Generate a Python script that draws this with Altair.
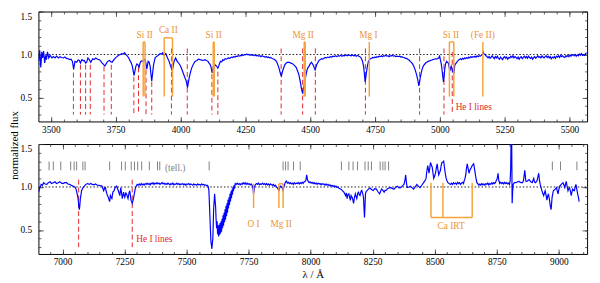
import altair as alt
import pandas as pd

FONT = "Liberation Serif"
BLUE = "#0000ff"
ORANGE = "#f5a33a"
ORANGE_TXT = "#ec9433"
RED = "#e0282d"
GREY = "#7f7f7f"
W, H = 559, 112

# ---------------- axes / domains ----------------
TOP_X_DOMAIN = [3452, 5568]
BOT_X_DOMAIN = [6903, 9114]
Y_DOMAIN = [0.22, 1.5]
TOP_X_MAJOR = [3500, 3750, 4000, 4250, 4500, 4750, 5000, 5250, 5500]
TOP_X_MINOR = list(range(3500, 5551, 50))
BOT_X_MAJOR = [7000, 7250, 7500, 7750, 8000, 8250, 8500, 8750, 9000]
BOT_X_MINOR = list(range(6950, 9101, 50))
Y_MAJOR = [0.5, 1.0, 1.5]
Y_MINOR = [0.3, 0.4, 0.5, 0.6, 0.7, 0.8, 0.9, 1.0, 1.1, 1.2, 1.3, 1.4, 1.5]

# ---------------- top spectrum, (wavelength, normalized flux) ----------------
TOP_SEG_1 = [
    (3453, 0.92), (3457, 1.05), (3461, 0.85), (3465, 1.03), (3468, 0.96), (3472, 1.04), (3476, 0.90), (3480, 0.99), (3483, 0.94), (3487, 1.03),
    (3492, 0.96), (3497, 0.99), (3504, 0.96), (3510, 0.975), (3516, 0.96), (3522, 0.98), (3529, 0.96), (3535, 0.975), (3541, 0.965), (3548, 0.96),
    (3554, 0.97), (3560, 0.955), (3567, 0.95), (3573, 0.94), (3578, 0.945), (3583, 0.92), (3588, 0.83), (3593, 0.92), (3600, 0.91), (3605, 0.935),
    (3610, 0.93), (3614, 0.90), (3620, 0.94), (3625, 0.925), (3629, 0.93), (3634, 0.90), (3638, 0.91), (3643, 0.96), (3648, 0.94), (3654, 0.91),
    (3661, 0.95), (3667, 0.94), (3673, 0.96), (3680, 0.945), (3686, 0.94), (3692, 0.925), (3698, 0.90), (3703, 0.885), (3708, 0.865), (3713, 0.89),
    (3717, 0.91), (3722, 0.925), (3726, 0.93), (3731, 0.915), (3736, 0.91), (3742, 0.935), (3749, 0.96), (3755, 0.975), (3761, 0.99), (3768, 1.0),
    (3774, 1.01), (3779, 1.005), (3784, 1.02), (3789, 1.0), (3793, 0.99), (3799, 0.965), (3805, 0.93), (3810, 0.90), (3814, 0.865), (3818, 0.80),
    (3821, 0.755), (3825, 0.82), (3828, 0.865), (3832, 0.89), (3836, 0.88), (3840, 0.85), (3844, 0.90), (3847, 0.92), (3851, 0.925), (3855, 0.92),
    (3859, 0.935), (3863, 0.94), (3867, 0.89), (3870, 0.83), (3875, 0.92), (3879, 0.91), (3883, 0.86), (3886, 0.77), (3889, 0.69), (3893, 0.80),
    (3896, 0.88), (3902, 0.96), (3907, 0.975), (3912, 0.985), (3917, 1.0), (3922, 1.01), (3927, 1.005), (3931, 1.02), (3937, 0.99), (3943, 1.01),
    (3950, 0.96), (3956, 0.92), (3962, 0.865), (3968, 0.81), (3972, 0.87), (3975, 0.92), (3981, 0.96), (3987, 0.92), (3994, 0.895), (4000, 0.865),
    (4006, 0.82), (4012, 0.77), (4017, 0.73), (4021, 0.70), (4024, 0.66), (4027, 0.615), (4030, 0.67), (4034, 0.735), (4039, 0.80), (4044, 0.85),
    (4050, 0.89), (4056, 0.92), (4063, 0.93), (4069, 0.945), (4075, 0.94), (4082, 0.935), (4088, 0.93), (4094, 0.94), (4100, 0.93), (4106, 0.92),
    (4110, 0.90), (4114, 0.885), (4118, 0.85), (4122, 0.785), (4127, 0.865), (4130, 0.85), (4133, 0.88), (4139, 0.865), (4144, 0.84), (4148, 0.87),
]
TOP_SEG_2 = [
    (4151, 0.90), (4155, 0.92), (4159, 0.915), (4163, 0.94), (4167, 0.93), (4172, 0.95), (4177, 0.945), (4182, 0.955), (4186, 0.96), (4191, 0.955),
    (4196, 0.97), (4201, 0.965), (4205, 0.975), (4210, 0.97), (4214, 0.98), (4218, 0.975), (4222, 0.985), (4226, 0.98), (4231, 0.99), (4235, 0.985),
    (4239, 0.995), (4243, 0.99), (4247, 1.0), (4251, 0.995), (4256, 1.005), (4260, 0.995), (4264, 1.0), (4268, 0.99), (4272, 1.0), (4276, 0.99),
    (4281, 0.995), (4285, 0.985), (4289, 0.995), (4293, 0.985), (4297, 0.99), (4301, 0.98), (4306, 0.985), (4310, 0.975), (4314, 0.985), (4318, 0.98),
    (4322, 0.975), (4326, 0.97), (4331, 0.975), (4335, 0.965), (4339, 0.97), (4343, 0.96), (4347, 0.965), (4352, 0.955), (4356, 0.95), (4361, 0.945),
    (4365, 0.935), (4370, 0.92),
]
TOP_SEG_3 = [
    (4379, 0.85), (4386, 0.77), (4389, 0.75), (4394, 0.81), (4402, 0.88), (4408, 0.90), (4414, 0.91), (4422, 0.905), (4433, 0.89), (4440, 0.87),
    (4446, 0.85), (4451, 0.81), (4456, 0.77), (4462, 0.68), (4467, 0.59), (4471, 0.545), (4476, 0.63), (4481, 0.72), (4487, 0.81), (4491, 0.845),
    (4496, 0.865), (4500, 0.89), (4505, 0.91), (4511, 0.88), (4515, 0.85), (4519, 0.82), (4522, 0.85), (4525, 0.88), (4530, 0.91),
]
TOP_SEG_4 = [
    (4534, 0.93), (4539, 0.94), (4544, 0.95), (4549, 0.945), (4553, 0.955), (4558, 0.965), (4563, 0.96), (4568, 0.97), (4573, 0.965), (4578, 0.975),
    (4583, 0.97), (4588, 0.98), (4593, 0.975), (4598, 0.985), (4603, 0.975), (4608, 0.985), (4613, 0.98), (4618, 0.99), (4623, 0.98), (4628, 0.99),
    (4633, 0.985), (4638, 0.995), (4643, 0.985), (4648, 0.995), (4653, 0.99), (4658, 0.985), (4663, 0.995), (4668, 0.985), (4673, 0.99), (4678, 0.98),
    (4683, 0.99), (4688, 0.98), (4692, 0.975), (4697, 0.956),
    (4702, 0.92), (4706, 0.865), (4709, 0.78), (4712, 0.68), (4715, 0.74), (4717, 0.79), (4721, 0.87), (4725, 0.92),
]
TOP_SEG_5 = [
    (4729, 0.94), (4733, 0.95), (4737, 0.955), (4741, 0.965), (4746, 0.96), (4750, 0.97), (4754, 0.965), (4758, 0.975), (4762, 0.97), (4766, 0.98),
    (4771, 0.975), (4775, 0.985), (4779, 0.975), (4783, 0.985), (4787, 0.98), (4791, 0.99), (4796, 0.98), (4800, 0.985), (4804, 0.975), (4808, 0.985),
    (4812, 0.98), (4816, 0.99), (4821, 0.98), (4826, 0.985), (4830, 0.975), (4835, 0.98), (4840, 0.975), (4845, 0.98), (4850, 0.97), (4854, 0.975),
    (4858, 0.965), (4863, 0.965), (4867, 0.955), (4872, 0.955), (4876, 0.945), (4880, 0.94), (4883, 0.93), (4886, 0.92), (4891, 0.905), (4895, 0.89),
    (4900, 0.86),
]
TOP_SEG_6 = [
    (4904, 0.83), (4909, 0.78), (4914, 0.72), (4919, 0.635), (4922, 0.68), (4926, 0.755), (4931, 0.82), (4936, 0.865), (4945, 0.90), (4950, 0.91),
    (4955, 0.92), (4960, 0.925), (4964, 0.93), (4969, 0.935), (4973, 0.94), (4978, 0.945), (4983, 0.95), (4988, 0.945), (4992, 0.955), (4997, 0.96),
    (4999, 0.99), (5002, 0.94), (5005, 0.90), (5008, 0.84), (5011, 0.755), (5014, 0.68), (5016, 0.72), (5019, 0.83), (5022, 0.89), (5026, 0.92),
    (5029, 0.91), (5033, 0.90), (5036, 0.85), (5039, 0.81), (5042, 0.85), (5044, 0.865), (5047, 0.83), (5049, 0.81), (5052, 0.79), (5054, 0.775),
    (5058, 0.88), (5063, 0.90), (5068, 0.92), (5074, 0.94),
]
TOP_SEG_7 = [
    (5080, 0.95), (5084, 0.94), (5088, 0.955), (5092, 0.945), (5096, 0.96), (5100, 0.95), (5104, 0.965), (5108, 0.955), (5112, 0.97), (5116, 0.96),
    (5120, 0.975), (5124, 0.965), (5128, 0.975), (5132, 0.97), (5136, 0.98), (5140, 0.97), (5144, 0.985), (5148, 0.975), (5152, 0.985), (5156, 0.98),
    (5160, 0.99), (5164, 1.0), (5167, 1.03), (5170, 1.01), (5174, 1.0), (5178, 0.985), (5182, 0.975), (5186, 0.96), (5190, 0.975), (5194, 0.955),
    (5198, 0.97), (5202, 0.985), (5206, 0.965), (5210, 0.95), (5214, 0.975), (5218, 0.96), (5222, 0.98), (5226, 0.955), (5230, 0.945), (5234, 0.97),
    (5238, 0.955), (5242, 0.94), (5246, 0.965), (5250, 0.975), (5254, 0.955), (5258, 0.97), (5262, 0.945), (5266, 0.965), (5270, 0.96), (5274, 0.98),
    (5278, 0.965), (5282, 0.985), (5286, 0.96), (5290, 0.975), (5294, 0.965), (5298, 0.95), (5302, 0.97), (5306, 0.945), (5310, 0.965), (5314, 0.975),
    (5318, 0.95), (5322, 0.965), (5326, 0.98), (5330, 0.96), (5334, 0.975), (5338, 0.955), (5342, 0.98), (5346, 0.965), (5350, 0.955), (5354, 0.97),
    (5358, 0.945), (5362, 0.965), (5366, 0.975), (5370, 0.955), (5374, 0.97), (5378, 0.985), (5382, 0.965), (5386, 0.975), (5390, 0.96), (5394, 0.985),
    (5398, 0.97), (5402, 0.96), (5406, 0.975), (5410, 0.985), (5414, 0.965), (5418, 0.98), (5422, 0.96), (5426, 0.975), (5430, 0.95), (5434, 0.97),
    (5438, 0.96), (5442, 0.975), (5446, 0.955), (5450, 0.98), (5454, 0.97), (5458, 0.985), (5462, 0.965), (5466, 0.99), (5470, 0.975), (5474, 0.985),
    (5478, 0.97), (5482, 0.965), (5486, 0.985), (5490, 0.975), (5494, 0.99), (5498, 0.975), (5502, 0.995), (5506, 0.98), (5510, 0.99), (5514, 1.0),
    (5518, 0.985), (5522, 1.0), (5526, 0.98), (5530, 0.995), (5534, 0.985), (5538, 1.005), (5542, 0.99), (5546, 1.01), (5550, 0.99), (5554, 1.0),
    (5558, 0.99), (5562, 1.01), (5566, 1.02),
]

# ---------------- bottom spectrum, (wavelength, normalized flux) ----------------
BOT_SEG_1 = [
    (6904, 0.94), (6906, 0.96), (6908, 0.993), (6911, 1.0), (6914, 1.03), (6919, 1.02), (6924, 1.05), (6930, 1.035), (6937, 1.03), (6943, 1.05),
    (6950, 1.06), (6956, 1.04), (6963, 1.05), (6970, 1.06), (6976, 1.04), (6983, 1.05), (6989, 1.06), (6996, 1.045), (7002, 1.04), (7009, 1.05),
    (7016, 1.05), (7022, 1.035), (7029, 1.03), (7035, 1.02), (7042, 1.01), (7047, 1.005), (7052, 0.993), (7056, 0.96), (7059, 0.92), (7062, 0.88),
    (7064, 0.83), (7066, 0.77), (7068, 0.736), (7070, 0.79), (7072, 0.865), (7075, 0.92), (7077, 0.956), (7082, 0.99), (7088, 1.01), (7094, 1.03),
    (7101, 1.04), (7108, 1.03), (7114, 1.04), (7120, 1.03), (7127, 1.025), (7133, 1.035), (7140, 1.02), (7146, 1.02), (7152, 1.015), (7159, 1.01),
    (7163, 0.98), (7166, 0.956), (7170, 0.99), (7173, 0.993), (7176, 0.95), (7179, 0.92), (7183, 0.89), (7186, 0.865), (7190, 0.83), (7193, 0.90),
    (7196, 0.88), (7199, 0.865), (7203, 0.94), (7208, 0.956), (7212, 0.993), (7218, 1.01), (7222, 0.98), (7225, 0.956), (7228, 0.93), (7231, 0.90),
    (7235, 0.993), (7238, 0.93), (7241, 0.865), (7244, 0.91), (7246, 0.94), (7249, 0.90), (7251, 0.88), (7255, 0.93), (7258, 0.92), (7261, 0.89),
    (7264, 0.865), (7268, 0.93), (7271, 0.956), (7274, 0.90), (7276, 0.846), (7279, 0.83), (7281, 0.81), (7284, 0.84), (7286, 0.865), (7290, 0.93),
    (7293, 0.975),
]
BOT_SEG_2 = [
    (7297, 1.01), (7301, 1.03), (7305, 1.02), (7309, 1.035), (7313, 1.02), (7317, 1.04), (7321, 1.025), (7325, 1.035), (7329, 1.02), (7333, 1.04),
    (7337, 1.03), (7341, 1.045), (7345, 1.03), (7349, 1.04), (7353, 1.025), (7357, 1.045), (7361, 1.035), (7365, 1.05), (7369, 1.03), (7373, 1.045),
    (7377, 1.035), (7381, 1.05), (7385, 1.035), (7389, 1.045), (7393, 1.03), (7397, 1.04), (7401, 1.05), (7405, 1.035), (7409, 1.045), (7413, 1.03),
    (7417, 1.04), (7421, 1.03), (7425, 1.045), (7429, 1.035), (7433, 1.025), (7437, 1.04), (7441, 1.03), (7445, 1.045), (7449, 1.025), (7453, 1.035),
    (7457, 1.03), (7461, 1.045), (7465, 1.03), (7469, 1.04), (7473, 1.025), (7477, 1.035), (7481, 1.03), (7485, 1.04), (7489, 1.025), (7493, 1.035),
    (7497, 1.02), (7501, 1.035), (7505, 1.03), (7509, 1.04), (7513, 1.025), (7517, 1.035), (7521, 1.03), (7525, 1.02), (7529, 1.035), (7533, 1.025),
    (7537, 1.03), (7541, 1.02), (7545, 1.035), (7549, 1.025), (7553, 1.03), (7557, 1.02), (7561, 1.035), (7565, 1.025), (7569, 1.03), (7573, 1.02),
    (7577, 1.025), (7581, 1.015), (7584, 1.02), (7587, 1.005), (7590, 0.96),
]
BOT_SEG_3 = [
    (7594, 0.66), (7598, 0.37), (7602, 0.28), (7606, 0.41), (7609, 0.74), (7613, 0.92), (7617, 0.77), (7619, 0.62), (7621, 0.52), (7623, 0.60),
    (7625, 0.45), (7627, 0.55), (7629, 0.425), (7631, 0.56), (7633, 0.44), (7635, 0.58), (7637, 0.46), (7639, 0.60), (7641, 0.48), (7643, 0.63),
    (7645, 0.52), (7647, 0.67), (7649, 0.55), (7651, 0.70), (7653, 0.59), (7655, 0.74), (7657, 0.62), (7659, 0.78), (7661, 0.66), (7663, 0.81),
    (7665, 0.70), (7667, 0.85), (7669, 0.75), (7671, 0.88), (7673, 0.79), (7675, 0.92), (7677, 0.83), (7679, 0.95), (7681, 0.87), (7683, 0.97),
    (7685, 0.91), (7687, 1.0), (7689, 0.95), (7691, 1.02), (7693, 0.98), (7696, 1.04),
]
BOT_SEG_4 = [
    (7700, 1.03), (7704, 1.045), (7708, 1.03), (7712, 1.04), (7716, 1.025), (7720, 1.04), (7724, 1.03), (7728, 1.05), (7732, 1.035), (7736, 1.05),
    (7740, 1.03), (7744, 1.045), (7748, 1.03), (7752, 1.04), (7756, 1.025), (7760, 1.035), (7764, 1.02), (7766, 1.01), (7768, 0.975), (7770, 0.92),
    (7772, 0.96), (7774, 1.01), (7778, 1.03), (7782, 1.04), (7786, 1.03), (7790, 1.045), (7794, 1.025), (7798, 1.035), (7802, 1.03), (7806, 1.045),
    (7810, 1.03), (7814, 1.04), (7818, 1.025), (7822, 1.04), (7826, 1.025), (7830, 1.035), (7834, 1.02), (7838, 1.035), (7842, 1.025), (7846, 1.02),
    (7850, 1.03), (7854, 1.01), (7858, 1.02), (7862, 1.0), (7866, 0.99), (7869, 0.975), (7872, 0.96), (7875, 0.99), (7879, 1.01), (7883, 1.0),
    (7885, 0.99), (7889, 0.96), (7892, 1.0), (7895, 1.03), (7899, 1.06), (7902, 1.07), (7906, 1.045), (7910, 1.055), (7914, 1.04), (7918, 1.05),
    (7922, 1.035), (7926, 1.045), (7930, 1.03), (7934, 1.05), (7938, 1.035), (7942, 1.045), (7946, 1.04), (7950, 1.05), (7954, 1.035), (7958, 1.05),
    (7962, 1.04), (7966, 1.055), (7970, 1.04), (7974, 1.06), (7978, 1.065), (7981, 1.08), (7984, 1.14), (7987, 1.09), (7990, 1.065), (7994, 1.05),
    (7998, 1.06), (8002, 1.045), (8006, 1.055), (8010, 1.04), (8014, 1.05), (8018, 1.035), (8022, 1.045), (8026, 1.03), (8030, 1.045), (8034, 1.035),
    (8038, 1.04), (8042, 1.025), (8046, 1.04), (8050, 1.03), (8054, 1.035), (8058, 1.02), (8062, 1.035), (8066, 1.02), (8070, 1.03), (8074, 1.015),
    (8078, 1.025), (8082, 1.01), (8086, 1.02), (8090, 1.005), (8094, 1.015), (8098, 1.0), (8102, 1.01), (8106, 0.995), (8110, 1.0), (8114, 0.985),
    (8118, 0.98),
]
BOT_SEG_5 = [
    (8122, 0.975), (8127, 0.96), (8134, 0.94), (8141, 0.90), (8144, 0.93), (8147, 0.865), (8150, 0.91), (8154, 0.92), (8157, 0.88), (8160, 0.845),
    (8163, 0.90), (8167, 0.88), (8170, 0.85), (8173, 0.81), (8176, 0.87), (8180, 0.92), (8183, 0.89), (8186, 0.865), (8190, 0.93), (8193, 0.94),
    (8196, 0.91), (8199, 0.90), (8203, 0.95), (8206, 0.96), (8210, 0.92), (8213, 0.88), (8215, 0.75), (8217, 0.645), (8219, 0.78), (8221, 0.92),
    (8224, 0.95), (8228, 0.96), (8233, 0.975), (8239, 0.99), (8245, 0.97), (8252, 0.96), (8258, 0.98), (8265, 0.975), (8270, 0.95), (8275, 0.93),
    (8278, 0.92), (8282, 0.95), (8286, 0.975), (8291, 0.96), (8296, 0.94), (8300, 0.96), (8304, 0.96), (8310, 0.98), (8317, 0.99), (8324, 0.993),
    (8330, 0.98), (8337, 0.975), (8343, 1.0), (8350, 1.01), (8356, 0.99), (8363, 0.993), (8369, 1.01), (8376, 1.03), (8380, 1.08), (8383, 1.14),
    (8386, 1.05), (8389, 0.993), (8396, 1.0), (8402, 1.01), (8409, 0.99), (8415, 0.975), (8421, 1.0), (8428, 1.03), (8434, 1.01), (8441, 0.993),
    (8448, 1.02), (8455, 1.05), (8460, 1.07), (8465, 1.10), (8468, 1.18), (8472, 1.25), (8477, 1.16), (8480, 1.22), (8483, 1.285), (8487, 1.25),
    (8490, 1.23), (8493, 1.16), (8496, 1.10), (8500, 1.13), (8504, 1.175), (8507, 1.23), (8510, 1.27), (8513, 1.20), (8516, 1.14), (8520, 1.17),
    (8523, 1.195), (8526, 1.25), (8529, 1.285), (8533, 1.29), (8536, 1.30), (8540, 1.21), (8543, 1.15), (8546, 1.10), (8550, 1.07), (8553, 1.05),
    (8558, 1.04),
]
BOT_SEG_6 = [
    (8564, 1.03), (8568, 1.045), (8572, 1.03), (8576, 1.05), (8580, 1.035), (8584, 1.045), (8588, 1.03), (8592, 1.055), (8596, 1.04), (8600, 1.05),
    (8604, 1.03), (8608, 1.045), (8612, 1.055), (8616, 1.04), (8618, 1.065), (8622, 1.10), (8625, 1.14), (8628, 1.22), (8631, 1.27), (8635, 1.21),
    (8638, 1.16), (8641, 1.19), (8644, 1.21), (8648, 1.23), (8651, 1.25), (8654, 1.26), (8657, 1.27), (8661, 1.20), (8664, 1.14), (8667, 1.09),
    (8670, 1.05), (8674, 1.035), (8678, 1.02), (8682, 1.035), (8686, 1.02), (8690, 1.04), (8694, 1.025), (8698, 1.035), (8702, 1.02), (8706, 1.04),
    (8710, 1.03), (8714, 1.045), (8718, 1.025), (8722, 1.04), (8726, 1.03), (8730, 1.05), (8734, 1.035), (8738, 1.05), (8742, 1.04), (8746, 1.06),
    (8749, 1.08), (8752, 1.10), (8755, 1.16), (8758, 1.08), (8762, 1.04), (8766, 1.055), (8770, 1.04), (8774, 1.05), (8778, 1.035), (8782, 1.055),
    (8786, 1.04), (8790, 1.05), (8794, 1.035), (8798, 1.045), (8801, 1.03), (8804, 1.07), (8806, 1.21), (8808, 1.60), (8810, 1.60), (8812, 0.81),
    (8814, 0.95), (8816, 1.03),
]
BOT_SEG_7 = [
    (8821, 1.05), (8827, 1.05), (8834, 1.06), (8840, 1.065), (8847, 1.05), (8854, 1.05), (8858, 1.08), (8861, 1.15), (8863, 1.195), (8866, 1.10),
    (8868, 1.065), (8874, 1.07), (8880, 1.085), (8887, 1.06), (8893, 1.05), (8896, 1.08), (8899, 1.10), (8902, 1.06), (8906, 1.05), (8912, 1.07),
    (8916, 1.12), (8919, 1.16), (8922, 1.08), (8925, 1.03), (8929, 0.99), (8932, 0.956), (8935, 0.93), (8939, 0.90), (8942, 0.93), (8945, 0.956),
    (8949, 0.90), (8952, 0.846), (8955, 0.89), (8958, 0.92), (8962, 0.86), (8965, 0.79), (8969, 0.736), (8973, 0.88), (8978, 0.956), (8984, 0.97),
    (8991, 0.993), (8994, 0.95), (8997, 0.92), (9000, 0.97), (9004, 1.01), (9010, 1.03), (9017, 1.05), (9021, 1.02), (9024, 0.993), (9027, 1.03),
    (9030, 1.065), (9034, 1.0), (9037, 0.956), (9040, 0.98), (9043, 0.993), (9047, 0.95), (9050, 0.90), (9053, 0.94), (9056, 0.975), (9060, 0.96),
    (9063, 0.956), (9066, 1.0), (9069, 1.03), (9072, 0.98), (9076, 0.92), (9079, 0.88), (9082, 0.83),
]
TOP_SEGMENTS = [TOP_SEG_1, TOP_SEG_2, TOP_SEG_3, TOP_SEG_4, TOP_SEG_5, TOP_SEG_6, TOP_SEG_7]
BOT_SEGMENTS = [BOT_SEG_1, BOT_SEG_2, BOT_SEG_3, BOT_SEG_4, BOT_SEG_5, BOT_SEG_6, BOT_SEG_7]

# ---------------- line markers ----------------
HE_TOP_WL = [3587, 3614, 3634, 3652, 3705, 3733, 3820, 3838, 3867, 3889, 3965,
             4026, 4121, 4144, 4388, 4471, 4520, 4713, 4922, 5016, 5048]
HE_TOP_Y1 = [0.88, 0.88, 0.88, 0.88, 0.86, 0.88, 0.74, 0.85, 0.82, 0.68, 1.07,
             1.07, 0.77, 0.80, 1.07, 1.07, 1.07, 1.07, 1.07, 1.07, 1.03]
HE_TOP_Y2 = [0.30] * len(HE_TOP_WL)
HE_BOT_WL = [7065, 7281]
HE_BOT_Y1 = [1.085, 1.085]
HE_BOT_Y2 = [0.30, 0.30]

ORANGE_TOP_WL = [3856, 3863, 3937, 3969, 4126, 4130, 4477, 4481, 4728, 5037, 5054, 5166]
ORANGE_TOP_Y1 = [1.146, 1.146, 1.194, 1.194, 1.146, 1.146, 1.146, 1.146, 1.146, 1.146, 1.146, 1.146]
ORANGE_TOP_Y2 = [0.51] * len(ORANGE_TOP_WL)
ORANGE_TOP_BAR_X1 = [3856, 3937, 4126, 4477, 5037]
ORANGE_TOP_BAR_X2 = [3863, 3969, 4130, 4481, 5054]
ORANGE_TOP_BAR_Y = [1.146, 1.194, 1.146, 1.146, 1.146]
ORANGE_TOP_LABELS = ["Si II", "Ca II", "Si II", "Mg II", "Mg I", "Si II", "(Fe II)"]
ORANGE_TOP_LABEL_WL = [3862, 3953, 4128, 4473, 4725, 5043, 5166]
ORANGE_TOP_LABEL_Y = [1.231, 1.286, 1.231, 1.231, 1.231, 1.231, 1.231]

ORANGE_BOT_WL = [7770, 7872, 7889, 8485, 8533, 8651]
ORANGE_BOT_Y1 = [1.037, 1.037, 1.037, 1.048, 1.048, 1.048]
ORANGE_BOT_Y2 = [0.755, 0.755, 0.755, 0.645, 0.645, 0.645]
ORANGE_BOT_BAR_X1 = [7872, 8485]
ORANGE_BOT_BAR_X2 = [7889, 8651]
ORANGE_BOT_BAR_Y = [1.037, 0.645]
ORANGE_BOT_LABELS = ["O I", "Mg II", "Ca IRT"]
ORANGE_BOT_LABEL_WL = [7770, 7881, 8566]
ORANGE_BOT_LABEL_Y = [0.571, 0.571, 0.546]

TELL_WL = [6946, 6963, 6993, 7033, 7047, 7057, 7082, 7091, 7190, 7238, 7253, 7277,
           7290, 7303, 7319, 7350, 7383, 7392, 7591, 7889, 7899, 7909, 7931, 7958,
           8124, 8154, 8171, 8189, 8219, 8232, 8245, 8280, 8291, 8300, 8314,
           8974, 9007, 9073]
TELL_Y1 = 1.297
TELL_Y2 = 1.194

HE_LABEL = "He I lines"
HE_TOP_LABEL_POS = (5061, 0.385)
HE_BOT_LABEL_POS = (7297, 0.388)
TELL_LABEL = "(tell.)"
TELL_LABEL_POS = (7413, 1.225)


def spectrum_frame(segments):
    rows = [p for seg in segments for p in seg]
    return pd.DataFrame({"wl": [r[0] for r in rows], "f": [r[1] for r in rows]})


def panel(segments, xdom, xmaj, xmin, he_wl, he_y1, he_y2, or_wl, or_y1, or_y2,
          bar_x1, bar_x2, bar_y, lab, lab_wl, lab_y, he_label_pos, xtitle, ytitle, extra):
    xs = alt.Scale(domain=xdom, nice=False, zero=False)
    ys = alt.Scale(domain=Y_DOMAIN, nice=False, zero=False)
    frame = pd.DataFrame({"wl": xdom, "f": [1.0, 1.0]})
    layers = []

    xa = alt.Axis(orient="bottom", values=xmaj, ticks=False, domain=False, grid=False,
                  labelFont=FONT, labelFontSize=9.5, labelPadding=3, labelColor="black",
                  format="d", title=xtitle, titleFont=FONT, titleFontSize=11,
                  titleFontWeight="normal", titlePadding=2, titleColor="black")
    ya_kw = dict(orient="left", values=Y_MAJOR, ticks=False, domain=False, grid=False,
                 labelFont=FONT, labelFontSize=9.5, labelPadding=7, labelColor="black",
                 format=".1f", labelFlush=True)
    if ytitle:
        ya = alt.Axis(title=ytitle, titleFont=FONT, titleFontSize=11, titleFontWeight="normal",
                      titleColor="black", titleX=-19, titleY=136, titleAngle=270,
                      titleBaseline="bottom", **ya_kw)
    else:
        ya = alt.Axis(title=None, **ya_kw)
    layers.append(alt.Chart(frame).mark_line(color="black", strokeDash=[1.5, 2], strokeWidth=0.9)
                  .encode(x=alt.X("wl:Q", scale=xs, axis=xa), y=alt.Y("f:Q", scale=ys, axis=ya)))

    for xo, xv, xsz, yo, yv, ysz in [("top", xmaj, 5, "right", Y_MAJOR, 5),
                                     ("top", xmin, 2.5, "right", Y_MINOR, 2.5),
                                     ("bottom", xmaj, 5, "left", Y_MAJOR, 5),
                                     ("bottom", xmin, 2.5, "left", Y_MINOR, 2.5)]:
        ta = alt.Axis(orient=xo, offset=-H, values=xv, labels=False, tickSize=xsz,
                      tickColor="#333333", tickWidth=0.8, domain=False, grid=False, title=None)
        tb = alt.Axis(orient=yo, offset=-W, values=yv, labels=False, tickSize=ysz,
                      tickColor="#333333", tickWidth=0.8, domain=False, grid=False, title=None)
        layers.append(alt.Chart(frame).mark_line(opacity=0)
                      .encode(x=alt.X("wl:Q", scale=xs, axis=ta), y=alt.Y("f:Q", scale=ys, axis=tb)))

    X = lambda f: alt.X(f, scale=xs, axis=None)
    Y = lambda f: alt.Y(f, scale=ys, axis=None)

    he = pd.DataFrame({"wl": he_wl, "y1": he_y1, "y2": he_y2})
    layers.append(alt.Chart(he).mark_rule(color=RED, strokeDash=[5, 3], strokeWidth=1)
                  .encode(x=X("wl:Q"), y=Y("y1:Q"), y2="y2:Q"))
    layers.extend(extra(X, Y))

    layers.append(alt.Chart(spectrum_frame(segments)).mark_line(color=BLUE, strokeWidth=1.2, clip=True)
                  .encode(x=X("wl:Q"), y=Y("f:Q")))

    orr = pd.DataFrame({"wl": or_wl, "y1": or_y1, "y2": or_y2})
    layers.append(alt.Chart(orr).mark_rule(color=ORANGE, strokeWidth=1.5)
                  .encode(x=X("wl:Q"), y=Y("y1:Q"), y2="y2:Q"))
    bars = pd.DataFrame({"x1": bar_x1, "x2": bar_x2, "y": bar_y})
    layers.append(alt.Chart(bars).mark_rule(color=ORANGE, strokeWidth=1.5)
                  .encode(x=X("x1:Q"), x2="x2:Q", y=Y("y:Q")))
    labs = pd.DataFrame({"wl": lab_wl, "y": lab_y, "t": lab})
    layers.append(alt.Chart(labs).mark_text(font=FONT, fontSize=9.5, color=ORANGE_TXT,
                                            align="center", baseline="middle")
                  .encode(x=X("wl:Q"), y=Y("y:Q"), text="t:N"))
    hel = pd.DataFrame({"wl": [he_label_pos[0]], "y": [he_label_pos[1]], "t": [HE_LABEL]})
    layers.append(alt.Chart(hel).mark_text(font=FONT, fontSize=9.5, color=RED,
                                           align="left", baseline="middle")
                  .encode(x=X("wl:Q"), y=Y("y:Q"), text="t:N"))

    return alt.layer(*layers).resolve_axis(x="independent", y="independent").properties(width=W, height=H)


def no_extra(X, Y):
    return []


def tell_extra(X, Y):
    td = pd.DataFrame({"wl": TELL_WL, "y1": [TELL_Y1] * len(TELL_WL), "y2": [TELL_Y2] * len(TELL_WL)})
    tl = pd.DataFrame({"wl": [TELL_LABEL_POS[0]], "y": [TELL_LABEL_POS[1]], "t": [TELL_LABEL]})
    return [
        alt.Chart(td).mark_rule(color=GREY, strokeWidth=1).encode(x=X("wl:Q"), y=Y("y1:Q"), y2="y2:Q"),
        alt.Chart(tl).mark_text(font=FONT, fontSize=9.5, color=GREY, align="left", baseline="middle")
        .encode(x=X("wl:Q"), y=Y("y:Q"), text="t:N"),
    ]


top = panel(TOP_SEGMENTS, TOP_X_DOMAIN, TOP_X_MAJOR, TOP_X_MINOR,
            HE_TOP_WL, HE_TOP_Y1, HE_TOP_Y2, ORANGE_TOP_WL, ORANGE_TOP_Y1, ORANGE_TOP_Y2,
            ORANGE_TOP_BAR_X1, ORANGE_TOP_BAR_X2, ORANGE_TOP_BAR_Y,
            ORANGE_TOP_LABELS, ORANGE_TOP_LABEL_WL, ORANGE_TOP_LABEL_Y,
            HE_TOP_LABEL_POS, None, "normalized flux", no_extra)
bottom = panel(BOT_SEGMENTS, BOT_X_DOMAIN, BOT_X_MAJOR, BOT_X_MINOR,
               HE_BOT_WL, HE_BOT_Y1, HE_BOT_Y2, ORANGE_BOT_WL, ORANGE_BOT_Y1, ORANGE_BOT_Y2,
               ORANGE_BOT_BAR_X1, ORANGE_BOT_BAR_X2, ORANGE_BOT_BAR_Y,
               ORANGE_BOT_LABELS, ORANGE_BOT_LABEL_WL, ORANGE_BOT_LABEL_Y,
               HE_BOT_LABEL_POS, "λ / Å", None, tell_extra)

chart = (alt.vconcat(top, bottom, spacing=23, bounds="flush")
         .properties(padding={"left": 0, "top": 0, "right": 2, "bottom": 2})
         .configure_view(stroke="black", strokeWidth=1))

chart.save("out.html", embed_options={"renderer": "svg", "actions": False})
